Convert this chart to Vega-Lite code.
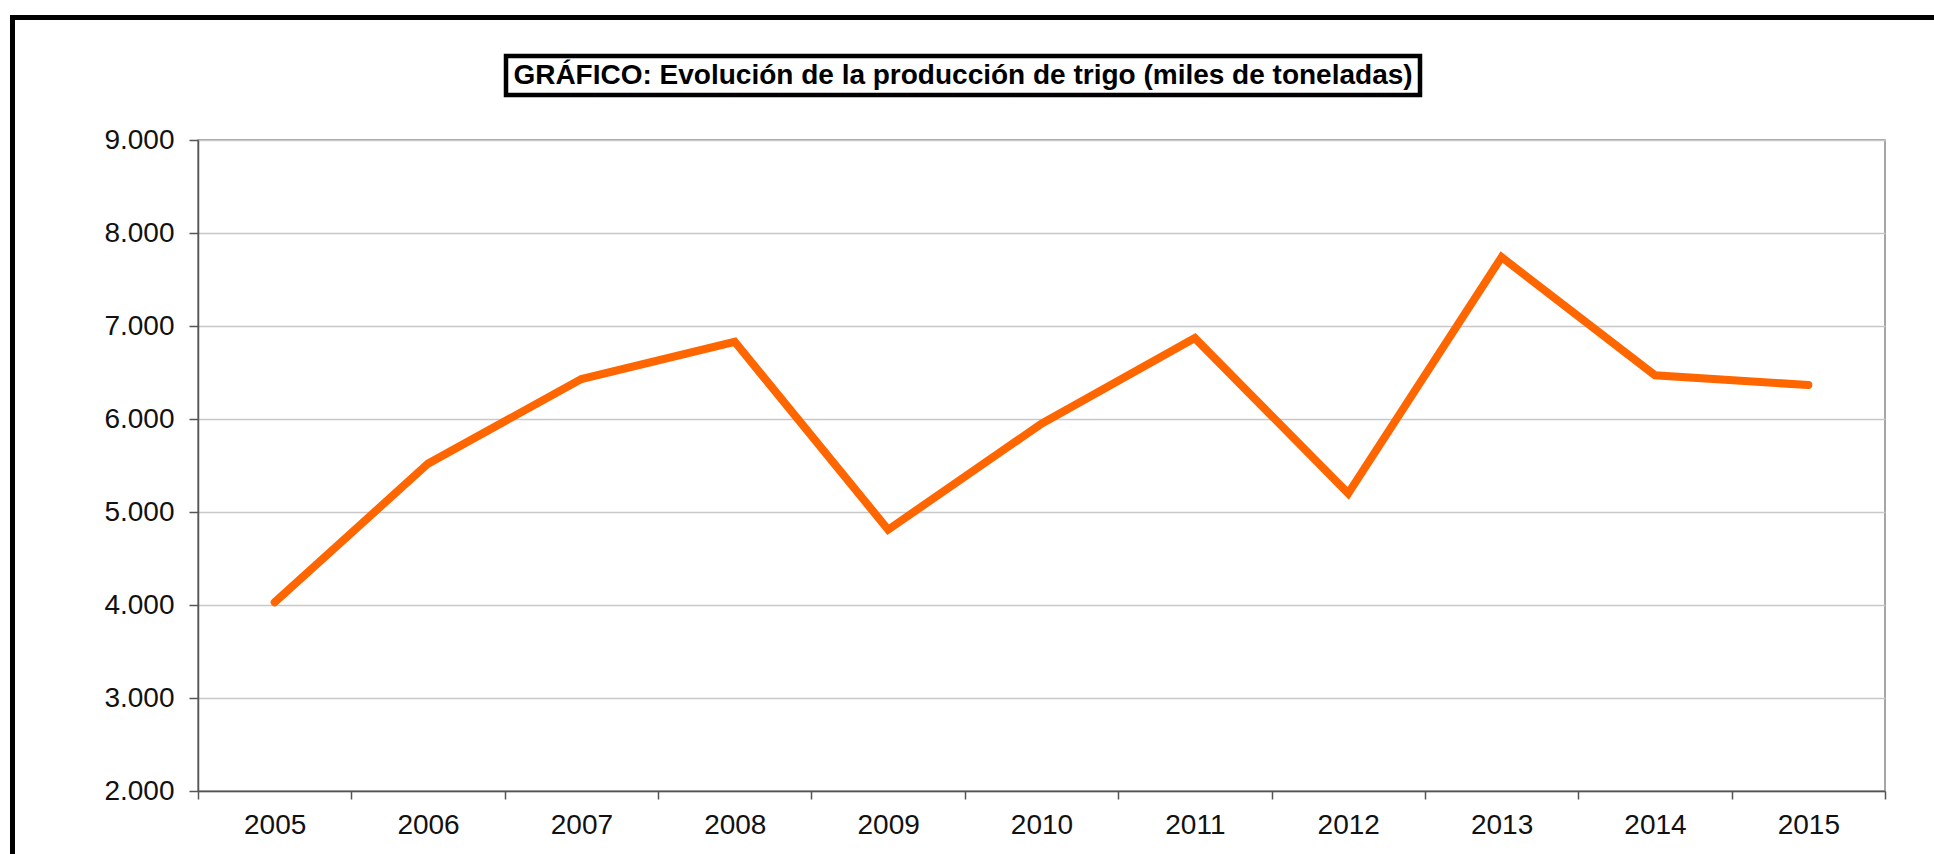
{
  "$schema": "https://vega.github.io/schema/vega-lite/v6.json",
  "padding": {"left": 10, "top": 15, "right": 0, "bottom": 0},
  "background": "white",
  "config": {
    "font": "Liberation Sans",
    "view": {"stroke": null}
  },
  "datasets": {
    "prod": [
      {"year": 2005, "value": 4030},
      {"year": 2006, "value": 5520},
      {"year": 2007, "value": 6430},
      {"year": 2008, "value": 6830},
      {"year": 2009, "value": 4810},
      {"year": 2010, "value": 5950},
      {"year": 2011, "value": 6870},
      {"year": 2012, "value": 5200},
      {"year": 2013, "value": 7740},
      {"year": 2014, "value": 6470},
      {"year": 2015, "value": 6365}
    ],
    "titulo": [
      {"t": "GRÁFICO: Evolución de la producción de trigo (miles de toneladas)"}
    ],
    "vacio": []
  },
  "spacing": 0,
  "vconcat": [
    {
      "width": 1924,
      "height": 5,
      "data": {"name": "vacio"},
      "mark": "point",
      "encoding": {},
      "view": {"fill": "black", "stroke": null}
    },
    {
      "spacing": 88,
      "hconcat": [
        {
          "width": 5,
          "height": 834,
          "data": {"name": "vacio"},
          "mark": "point",
          "encoding": {},
          "view": {"fill": "black", "stroke": null}
        },
        {
          "spacing": 32,
          "vconcat": [
            {
              "width": 1,
              "height": 1,
              "data": {"name": "vacio"},
              "mark": "point",
              "encoding": {}
            },
            {
              "spacing": 27,
              "vconcat": [
                {
                  "spacing": 304,
                  "hconcat": [
                    {
                      "width": 1,
                      "height": 1,
                      "data": {"name": "vacio"},
                      "mark": "point",
                      "encoding": {}
                    },
                    {
                      "width": 914,
                      "height": 39,
                      "data": {"name": "titulo"},
                      "mark": {"type": "text", "fontSize": 28, "fontWeight": "bold", "color": "black", "align": "center", "baseline": "middle"},
                      "encoding": {"text": {"field": "t"}},
                      "view": {"stroke": "black", "strokeWidth": 4.5}
                    }
                  ]
                },
                {
                  "width": 1687,
                  "height": 651,
                  "data": {"name": "prod"},
                  "view": {"stroke": "#888888", "strokeWidth": 1.5},
                  "resolve": {"axis": {"x": "independent"}},
                  "layer": [
                    {
                      "mark": {"type": "point", "opacity": 0},
                      "encoding": {
                        "x": {
                          "field": "year", "type": "quantitative",
                          "scale": {"domain": [2004.5, 2015.5], "nice": false, "zero": false},
                          "axis": {
                            "orient": "bottom", "title": null, "labels": false, "grid": false, "domain": false,
                            "values": [2004.5, 2005.5, 2006.5, 2007.5, 2008.5, 2009.5, 2010.5, 2011.5, 2012.5, 2013.5, 2014.5, 2015.5],
                            "ticks": true, "tickSize": 8, "tickColor": "#555555", "tickWidth": 1.5
                          }
                        },
                        "y": {"field": "value", "type": "quantitative"}
                      }
                    },
                    {
                      "mark": {"type": "line", "color": "#ff6600", "strokeWidth": 8, "strokeCap": "round", "strokeJoin": "miter"},
                      "encoding": {
                        "x": {
                          "field": "year", "type": "quantitative",
                          "axis": {
                            "orient": "bottom", "title": null, "grid": false, "ticks": false, "tickSize": 0,
                            "values": [2005, 2006, 2007, 2008, 2009, 2010, 2011, 2012, 2013, 2014, 2015],
                            "format": "d", "labelFontSize": 28, "labelColor": "#111111", "labelPadding": 20,
                            "domain": true, "domainColor": "#555555", "domainWidth": 1.5, "labelFlush": false
                          }
                        },
                        "y": {
                          "field": "value", "type": "quantitative",
                          "scale": {"domain": [2000, 9000], "nice": false, "zero": false},
                          "axis": {
                            "title": null,
                            "values": [2000, 3000, 4000, 5000, 6000, 7000, 8000, 9000],
                            "labelExpr": "replace(format(datum.value, ',d'), ',', '.')",
                            "labelFontSize": 28, "labelColor": "#111111", "labelPadding": 15,
                            "tickSize": 9, "tickColor": "#555555", "tickWidth": 1.5,
                            "domainColor": "#555555", "domainWidth": 1.5,
                            "grid": true, "gridColor": "#c8c8c8", "gridWidth": 1.5, "labelFlush": false
                          }
                        }
                      }
                    }
                  ]
                }
              ]
            }
          ]
        }
      ]
    }
  ]
}
